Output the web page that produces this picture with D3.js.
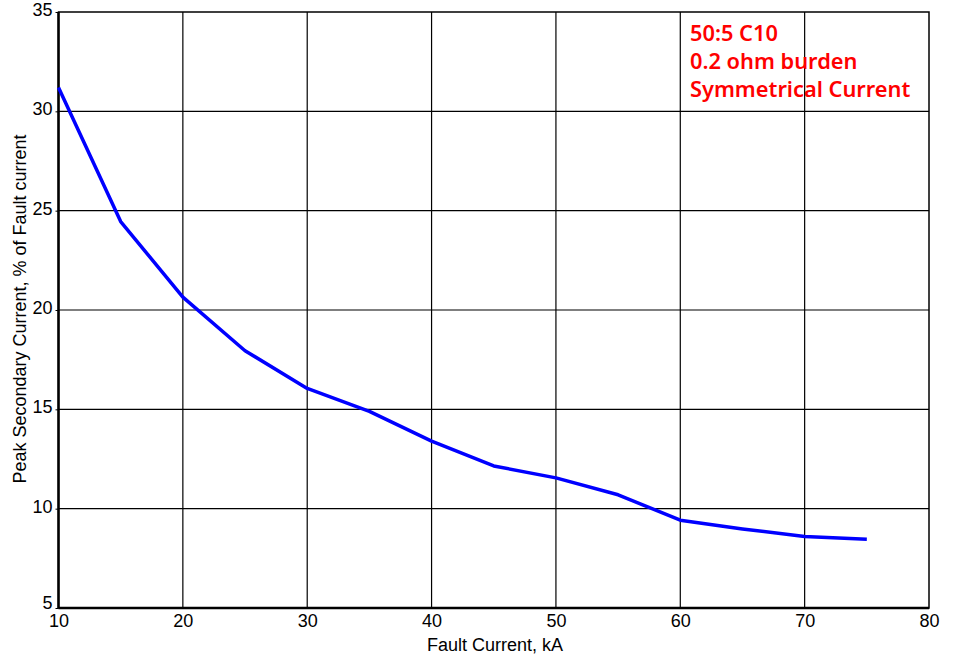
<!DOCTYPE html>
<html lang="en">
<head>
<meta charset="UTF-8">
<script src="https://d3js.org/d3.v7.min.js"></script>
<title>Peak Secondary Current</title>
<style>
  body { margin: 0; background: #fff; }
  svg text { font-family: "Liberation Sans", Arial, sans-serif; }
</style>
</head>
<body>
<svg id="chart" width="953" height="657"></svg>
<script>
// fault current, kA
const faultKA = [10, 15, 20, 25, 30, 35, 40, 45, 50, 55, 60, 65, 70, 75];
// peak secondary current, % of fault current
const peakPct = [31.2, 24.45, 20.65, 17.95, 16.05, 14.9, 13.4, 12.15, 11.55, 10.7, 9.42, 8.98, 8.6, 8.46];
const xTicks = [10, 20, 30, 40, 50, 60, 70, 80];
const yTicks = [5, 10, 15, 20, 25, 30, 35];
const notes = ["50:5 C10", "0.2 ohm burden", "Symmetrical Current"];

const svg = d3.select("#chart");
const margin = {top: 12, right: 24, bottom: 49, left: 58.5};
const w = 953 - margin.left - margin.right;
const h = 657 - margin.top - margin.bottom;

const g = svg.append("g").attr("transform", `translate(${margin.left},${margin.top})`);

const x = d3.scaleLinear().domain([10, 80]).range([0, w]);
const y = d3.scaleLinear().domain([5, 35]).range([h, 0]);

// grid
g.append("g").selectAll("line").data(xTicks.slice(1, -1)).join("line")
  .attr("x1", d => x(d)).attr("x2", d => x(d))
  .attr("y1", 0).attr("y2", h)
  .attr("stroke", "#000").attr("stroke-width", 1.2);
g.append("g").selectAll("line").data(yTicks.slice(1, -1)).join("line")
  .attr("x1", 0).attr("x2", w)
  .attr("y1", d => y(d)).attr("y2", d => y(d))
  .attr("stroke", "#000").attr("stroke-width", 1.2);

// frame
g.append("rect").attr("width", w).attr("height", h)
  .attr("fill", "none").attr("stroke", "#000").attr("stroke-width", 1.5);
g.append("line").attr("x1", 0).attr("x2", 0).attr("y1", 0).attr("y2", h)
  .attr("stroke", "#000").attr("stroke-width", 2.5);
g.append("line").attr("x1", 0).attr("x2", w).attr("y1", h).attr("y2", h)
  .attr("stroke", "#000").attr("stroke-width", 2.5);

// axes (labels only)
const xAxis = g.append("g").attr("transform", `translate(0,${h})`)
  .call(d3.axisBottom(x).tickValues(xTicks).tickSize(0).tickPadding(6));
const yAxis = g.append("g")
  .call(d3.axisLeft(y).tickValues(yTicks).tickSize(3).tickPadding(3));
[xAxis, yAxis].forEach(a => {
  a.select(".domain").remove();
  a.selectAll("text").attr("font-size", 18).attr("fill", "#000")
    .attr("font-family", "Liberation Sans, Arial, sans-serif");
  a.selectAll("line").attr("stroke", "#000");
});
yAxis.selectAll("text").attr("dy", d => d === 5 ? "0.05em" : "0.2em");

// axis titles
svg.append("text")
  .attr("x", 495).attr("y", 651)
  .attr("text-anchor", "middle").attr("font-size", 18)
  .text("Fault Current, kA");
svg.append("text")
  .attr("transform", `translate(26,309) rotate(-90)`)
  .attr("text-anchor", "middle").attr("font-size", 18)
  .text("Peak Secondary Current, % of Fault current");

// curve
const line = d3.line().x((d, i) => x(faultKA[i])).y(d => y(d));
g.append("path").datum(peakPct)
  .attr("d", line)
  .attr("fill", "none")
  .attr("stroke", "#0000ff")
  .attr("stroke-width", 3.5)
  .attr("stroke-linejoin", "round");

// notes
svg.append("g").selectAll("text").data(notes).join("text")
  .attr("x", 690).attr("y", (d, i) => 41 + i * 28)
  .attr("fill", "#ff0000")
  .attr("font-size", 21.8)
  .attr("font-weight", 600)
  .style("font-family", "'Noto Sans', 'Open Sans', sans-serif")
  .text(d => d);
</script>
</body>
</html>
